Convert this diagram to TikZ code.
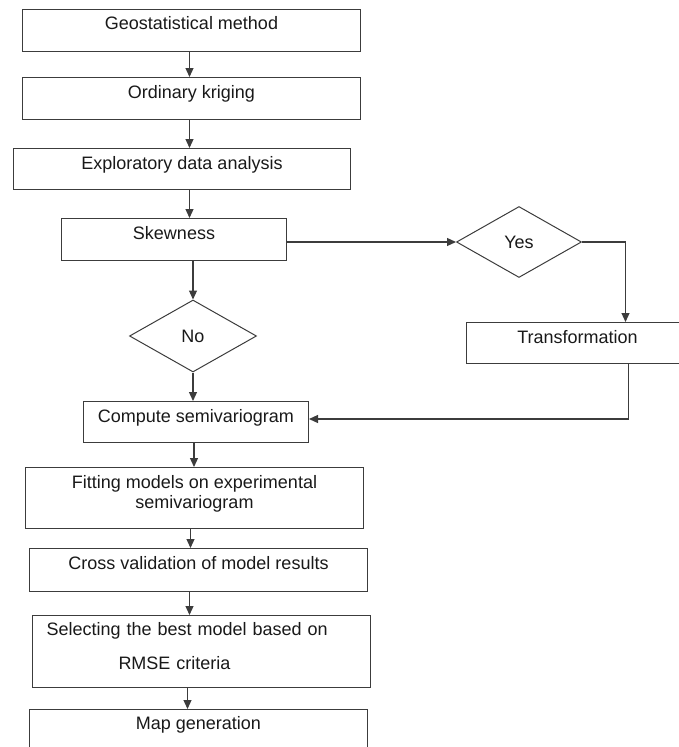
\documentclass[tikz,border=0pt]{standalone}
\usepackage{fontspec}
\setmainfont{Liberation Sans}
\usetikzlibrary{arrows.meta, shapes.geometric}

\begin{document}
\begin{tikzpicture}[x=1pt, y=-1pt,
        stage/.style={draw=linecolor, line width=1pt, inner sep=0pt, anchor=north west, align=center, text=textcolor, font=\fontsize{18}{20}\selectfont},
        choice/.style={diamond, draw=linecolor, line width=1pt, inner sep=0pt, text=textcolor, font=\fontsize{18}{20}\selectfont},
        arr/.style={draw=linecolor, line width=1.2pt, -{Triangle[length=9pt, width=8pt]}}]
        % Define some colors for convenience
        \definecolor{linecolor}{RGB}{60,60,60} % box and arrow color
        \definecolor{textcolor}{RGB}{25,25,25} % text color

        \useasboundingbox (0,0) rectangle (679,747); % page size

        % Main column
        \node[stage, minimum width=338pt, text height=20pt, text depth=22pt] (geo) at (22,9) {Geostatistical method};
        \node[stage, minimum width=338pt, text height=21pt, text depth=21pt] (krig) at (22,77) {Ordinary kriging};
        \node[stage, minimum width=337pt, text height=21pt, text depth=20pt] (expl) at (13,148) {Exploratory data analysis};
        \node[stage, minimum width=225pt, text height=21pt, text depth=21pt] (skew) at (61,218) {Skewness};

        % Decisions
        \node[choice, minimum width=125pt, minimum height=71pt] (yes) at (519,242) {Yes};
        \node[stage, minimum width=222pt, text height=21pt, text depth=20pt] (trans) at (466,322) {Transformation};
        \node[choice, minimum width=127pt, minimum height=72pt] (no) at (193,336) {No};

        % Modelling steps
        \node[stage, minimum width=225pt, text height=21pt, text depth=20pt] (comp) at (83,401) {Compute semivariogram};
        \node[stage, minimum width=338pt, text height=41pt, text depth=20pt] (fit) at (25,467) {Fitting models on experimental\\semivariogram};
        \node[stage, minimum width=338pt, text height=21pt, text depth=22pt] (cross) at (29,548) {Cross validation of model results};
        \node[stage, text width=310pt, inner xsep=14pt, align=left, text height=20pt, text depth=52pt] (sel) at (32,615) {Selecting the best model based on\\[14pt]\hspace*{72pt}RMSE criteria};
        \node[stage, minimum width=338pt, text height=20pt, text depth=22pt] (map) at (29,709) {Map generation};

        % Arrows
        \draw[arr] ([xshift=-2pt]geo.south) -- ([xshift=-2pt]geo.south |- krig.north);
        \draw[arr] ([xshift=-2pt]krig.south) -- ([xshift=-2pt]krig.south |- expl.north);
        \draw[arr] ([xshift=7.5pt]expl.south) -- ([xshift=7.5pt]expl.south |- skew.north);
        \draw[arr] (skew.south -| no.north) -- (no.north); % to No
        \draw[arr] (skew.east |- yes.west) -- (yes.west); % to Yes
        \draw[arr] (yes.east) -| ([xshift=48pt]trans.north);
        \draw[arr] (no.south) -- (no.south |- comp.north);
        \draw[arr] ([xshift=51pt]trans.south) |- ([yshift=3pt]comp.east); % back to semivariogram
        \draw[arr] ([xshift=-2pt]comp.south) -- ([xshift=-2pt]comp.south |- fit.north);
        \draw[arr] ([xshift=-4pt]fit.south) -- ([xshift=-4pt]fit.south |- cross.north);
        \draw[arr] ([xshift=-9pt]cross.south) -- ([xshift=-9pt]cross.south |- sel.north);
        \draw[arr] ([xshift=-14pt]sel.south) -- ([xshift=-14pt]sel.south |- map.north);
\end{tikzpicture}
\end{document}
